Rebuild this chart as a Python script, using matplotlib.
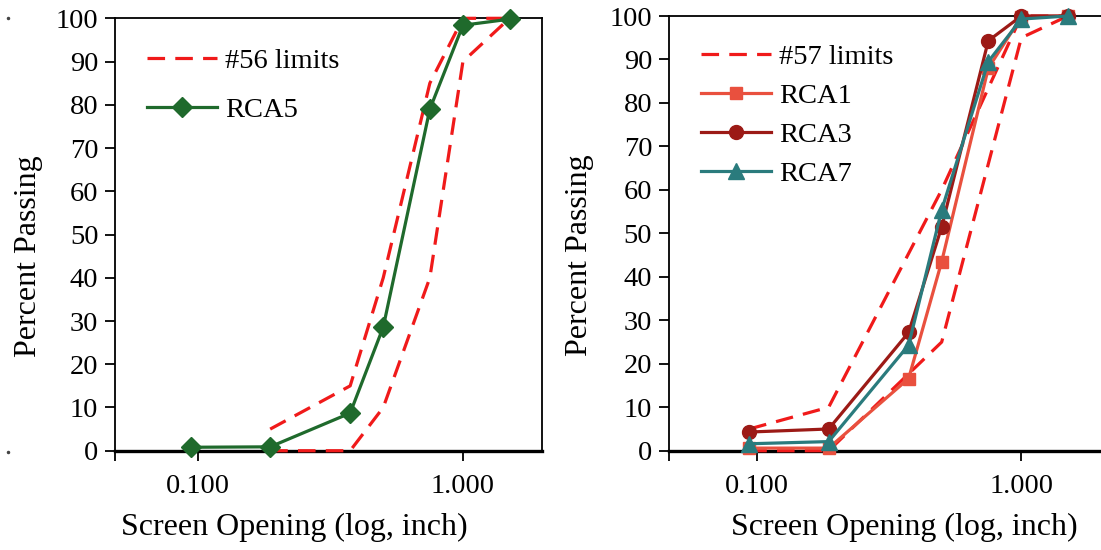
import matplotlib
matplotlib.use("Agg")
import matplotlib.pyplot as plt
import matplotlib.ticker as ticker
from matplotlib.lines import Line2D

# ---------------------------------------------------------
# sieve sizes (inch) and gradation data
# ---------------------------------------------------------
SIEVES = [0.0937, 0.187, 0.375, 0.5, 0.75, 1.0, 1.5]

# #56 gradation band
LIM56_X     = [0.187, 0.375, 0.5, 0.75, 1.0, 1.5]
LIM56_UPPER = [5, 15, 40, 85, 100, 100]
LIM56_LOWER = [0, 0, 10, 40, 90, 100]

# #57 gradation band
LIM57_X     = [0.0937, 0.187, 0.5, 1.0, 1.5]
LIM57_UPPER = [5, 10, 60, 100, 100]
LIM57_LOWER = [0, 0, 25, 95, 100]

RCA5 = [0.8, 0.9, 8.7, 28.6, 79.0, 98.4, 99.8]
RCA1 = [0.6, 0.6, 16.6, 43.5, 88.0, 99.8, 100.0]
RCA3 = [4.3, 5.0, 27.2, 51.5, 94.3, 100.0, 100.0]
RCA7 = [1.6, 2.1, 24.3, 55.4, 89.5, 99.3, 100.0]

XTICKS = [0.1, 1.0]
XTICKLABELS = ["0.100", "1.000"]
YTICKS = list(range(0, 101, 10))

# ---------------------------------------------------------
# style
# ---------------------------------------------------------
plt.rcParams.update({
    "font.family":      "Liberation Serif",
    "font.size":        20,
    "axes.linewidth":   1.3,
    "xtick.direction":  "out",
    "ytick.direction":  "out",
})

LIMIT_RED = "#f01a1a"
DASH = (0, (5.5, 3.2))
LW = 2.3
TICK_FS = 20.5
LABEL_FS = 23
LEGEND_FS = 20.5

fig = plt.figure(figsize=(11.01, 5.5), dpi=100)
ax1 = fig.add_axes([0.1045, 0.1805, 0.3878, 0.7862])
ax2 = fig.add_axes([0.6076, 0.1805, 0.3924, 0.7904])


def style_axis(ax, xmin, xmax):
    ax.set_xscale("log")
    ax.set_xlim(xmin, xmax)
    ax.set_ylim(0, 100)
    ax.set_xticks(XTICKS)
    ax.set_xticklabels(XTICKLABELS)
    ax.xaxis.set_minor_locator(ticker.FixedLocator([xmin]))
    ax.xaxis.set_minor_formatter(ticker.NullFormatter())
    ax.set_yticks(YTICKS)
    ax.tick_params(axis="both", which="both", length=7, width=1.3, labelsize=TICK_FS)
    ax.tick_params(axis="x", which="both", pad=10)
    ax.tick_params(axis="y", pad=5)
    ax.spines["bottom"].set_linewidth(2.4)
    ax.set_xlabel("Screen Opening (log, inch)", fontsize=LABEL_FS)
    ax.set_ylabel("Percent Passing", fontsize=LABEL_FS)


# ── left panel: #56 ─────────────────────
style_axis(ax1, 0.0485, 1.99)
ax1.plot(LIM56_X, LIM56_UPPER, color=LIMIT_RED, lw=LW, ls=DASH,
         label="#56 limits", zorder=3, clip_on=False)
ax1.plot(LIM56_X, LIM56_LOWER, color=LIMIT_RED, lw=LW, ls=DASH,
         zorder=3, clip_on=False)
ax1.plot(SIEVES, RCA5, color="#1f6a2c", lw=LW, marker="D", ms=10,
         label="RCA5", zorder=4, clip_on=False)
ax1.xaxis.set_label_coords(0.419, -0.144)
ax1.yaxis.set_label_coords(-0.169, 0.45)
ax1.legend(loc="upper left", bbox_to_anchor=(0.075, 0.931), frameon=False,
           fontsize=LEGEND_FS, handlelength=2.45, handletextpad=0.3,
           labelspacing=0.81, borderpad=0, borderaxespad=0)

# ── right panel: #57 ────────────────────
style_axis(ax2, 0.0466, 2.0)
ax2.spines["right"].set_visible(False)
ax2.plot(LIM57_X, LIM57_UPPER, color=LIMIT_RED, lw=LW, ls=DASH,
         label="#57 limits", zorder=3, clip_on=False)
ax2.plot(LIM57_X, LIM57_LOWER, color=LIMIT_RED, lw=LW, ls=DASH,
         zorder=3, clip_on=False)
ax2.plot(SIEVES, RCA1, color="#e9503e", lw=LW, marker="s", ms=8,
         label="RCA1", zorder=4, clip_on=False)
ax2.plot(SIEVES, RCA3, color="#9c1a16", lw=LW, marker="o", ms=10,
         label="RCA3", zorder=5, clip_on=False)
ax2.plot(SIEVES, RCA7, color="#2a7b7d", lw=LW, marker="^", ms=11,
         label="RCA7", zorder=6, clip_on=False)
ax2.xaxis.set_label_coords(0.544, -0.144)
ax2.yaxis.set_label_coords(-0.174, 0.45)
ax2.legend(loc="upper left", bbox_to_anchor=(0.074, 0.936), frameon=False,
           fontsize=LEGEND_FS, handlelength=2.45, handletextpad=0.3,
           labelspacing=0.46, borderpad=0, borderaxespad=0)

# small marks at the left margin
for yy in (1 - 18 / 550, 1 - 452 / 550):
    fig.add_artist(Line2D([0.0073], [yy], transform=fig.transFigure,
                          marker="o", ms=1.5, color="#444444", lw=0))

plt.savefig("out.png", dpi=100, facecolor="white")
plt.close(fig)
